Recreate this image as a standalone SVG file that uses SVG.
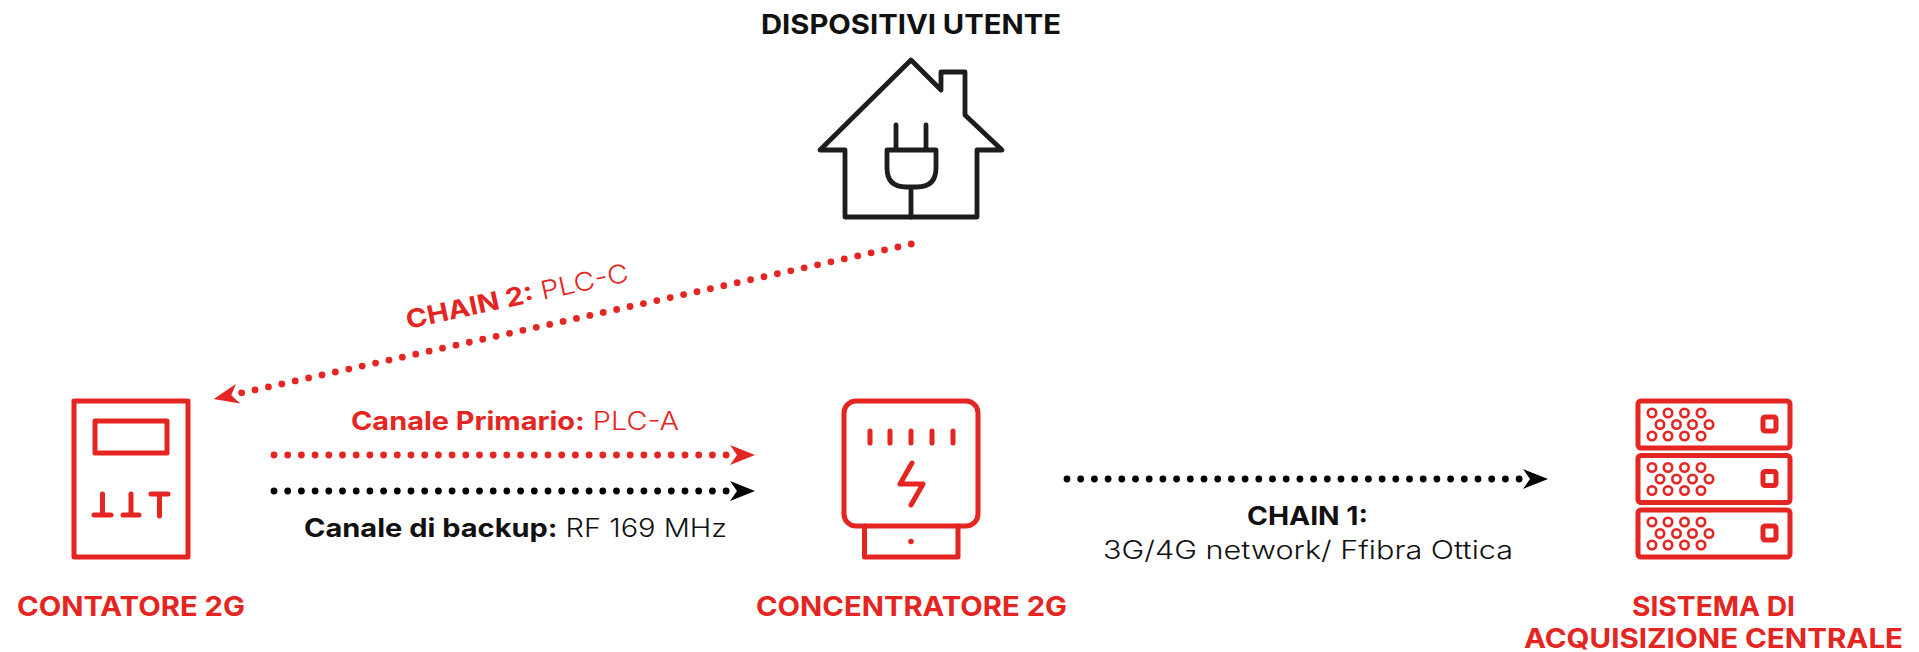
<svg xmlns="http://www.w3.org/2000/svg" width="1919" height="652" viewBox="0 0 1919 652">
<style>
text{font-family:"Inter","Liberation Sans",sans-serif}
.lab{font-size:27px;font-weight:700}
.edge{font-size:25.5px;font-weight:300}
.b{font-weight:700}
.r{fill:#e52521}
.k{fill:#111}
.ic{fill:none;stroke:#e52521;stroke-width:5;stroke-linecap:round;stroke-linejoin:round}
.ho{fill:none;stroke:#1d1d1b;stroke-width:4.8;stroke-linecap:round;stroke-linejoin:round}
.dot{fill:none;stroke-width:6.8;stroke-linecap:round;stroke-dasharray:0 13.7}
.diag{stroke-dasharray:0 13.72}
.hole{fill:none;stroke:#e52521;stroke-width:2.6}
</style>
<defs>
<marker id="ar" viewBox="0 -11 30 22" refX="0" refY="0" markerWidth="30" markerHeight="22" markerUnits="userSpaceOnUse" orient="auto"><path d="M3,-10 L28,0 L3,10 L10,0Z" fill="#e52521"/></marker>
<marker id="ak" viewBox="0 -11 30 22" refX="0" refY="0" markerWidth="30" markerHeight="22" markerUnits="userSpaceOnUse" orient="auto"><path d="M3,-10 L28,0 L3,10 L10,0Z" fill="#000"/></marker>
<g id="rows">
<circle cx="1652" cy="413" r="4.2" class="hole"/><circle cx="1668" cy="413" r="4.2" class="hole"/><circle cx="1684.500" cy="413" r="4.2" class="hole"/><circle cx="1701" cy="413" r="4.2" class="hole"/>
<circle cx="1660" cy="424.500" r="4.2" class="hole"/><circle cx="1676.500" cy="424.500" r="4.2" class="hole"/><circle cx="1692.500" cy="424.500" r="4.2" class="hole"/><circle cx="1709" cy="424.500" r="4.2" class="hole"/>
<circle cx="1652" cy="436" r="4.2" class="hole"/><circle cx="1668" cy="436" r="4.2" class="hole"/><circle cx="1684.500" cy="436" r="4.2" class="hole"/><circle cx="1701" cy="436" r="4.2" class="hole"/>
<rect x="1638" y="401" width="152" height="47" rx="3" class="ic"/>
<rect x="1763" y="417" width="13" height="14" rx="2" class="ic"/>
</g>
</defs>
<g id="connectors">
<line x1="911.300" y1="244" x2="241" y2="393" class="dot diag" stroke="#e52521" marker-end="url(#ar)"/>
<line x1="274" y1="455" x2="727" y2="455" class="dot" stroke="#e52521" marker-end="url(#ar)"/>
<line x1="274" y1="491" x2="727" y2="491" class="dot" stroke="#000" marker-end="url(#ak)"/>
<line x1="1067" y1="479" x2="1520" y2="479" class="dot" stroke="#000" marker-end="url(#ak)"/>
</g>
<g id="dispositivi-utente">
<path class="ho" d="M845,150H820L911,60L941,90V72H965V115L1002,150H977V217H845V150"/>
<path class="ho" d="M896,125V150M926,125V150M887,150H936V168Q936,187 917,187H906Q887,187 887,168ZM911,187V217"/>
<text x="761" y="33.500" class="lab k" textLength="300" lengthAdjust="spacingAndGlyphs">DISPOSITIVI UTENTE</text>
</g>
<g id="contatore-2g">
<rect x="74" y="401" width="114" height="156" class="ic"/>
<rect x="95" y="421" width="72" height="32" class="ic"/>
<path class="ic" d="M94,515H111M102.500,494V515M123,515H139M131,494V515M151,494H168M159.500,494V516"/>
<text x="17" y="616" class="lab r" textLength="228" lengthAdjust="spacingAndGlyphs">CONTATORE 2G</text>
</g>
<g id="concentratore-2g">
<rect x="844" y="401" width="134" height="125" rx="12" class="ic"/>
<path class="ic" d="M864.500,526V557H958V526"/>
<path class="ic" d="M870,431V443M890,431V443M911,431V443M932,431V443M953,431V443M912,463L900,484H923L911,505"/>
<circle cx="911" cy="541.500" r="2.800" fill="#e52521"/>
<text x="756" y="615.500" class="lab r" textLength="311" lengthAdjust="spacingAndGlyphs">CONCENTRATORE 2G</text>
</g>
<g id="sistema-acquisizione">
<use href="#rows"/><use href="#rows" y="54.500"/><use href="#rows" y="109"/>
<text x="1632" y="616" class="lab r" textLength="163" lengthAdjust="spacingAndGlyphs">SISTEMA DI</text>
<text x="1524" y="648" class="lab r" textLength="379" lengthAdjust="spacingAndGlyphs">ACQUISIZIONE CENTRALE</text>
</g>
<g id="labels">
<text transform="translate(408 329) rotate(-12.200)" class="edge r" textLength="227" lengthAdjust="spacingAndGlyphs"><tspan class="b">CHAIN 2:</tspan> PLC-C</text>
<text x="351" y="430" class="edge r" textLength="328" lengthAdjust="spacingAndGlyphs"><tspan class="b">Canale Primario:</tspan> PLC-A</text>
<text x="304" y="537" class="edge k" textLength="423" lengthAdjust="spacingAndGlyphs"><tspan class="b">Canale di backup:</tspan> RF 169 MHz</text>
<text x="1247" y="525" class="edge k b" textLength="121" lengthAdjust="spacingAndGlyphs">CHAIN 1:</text>
<text x="1103" y="559" class="edge k" textLength="410" lengthAdjust="spacingAndGlyphs">3G/4G network/ Ffibra Ottica</text>
</g>
</svg>
